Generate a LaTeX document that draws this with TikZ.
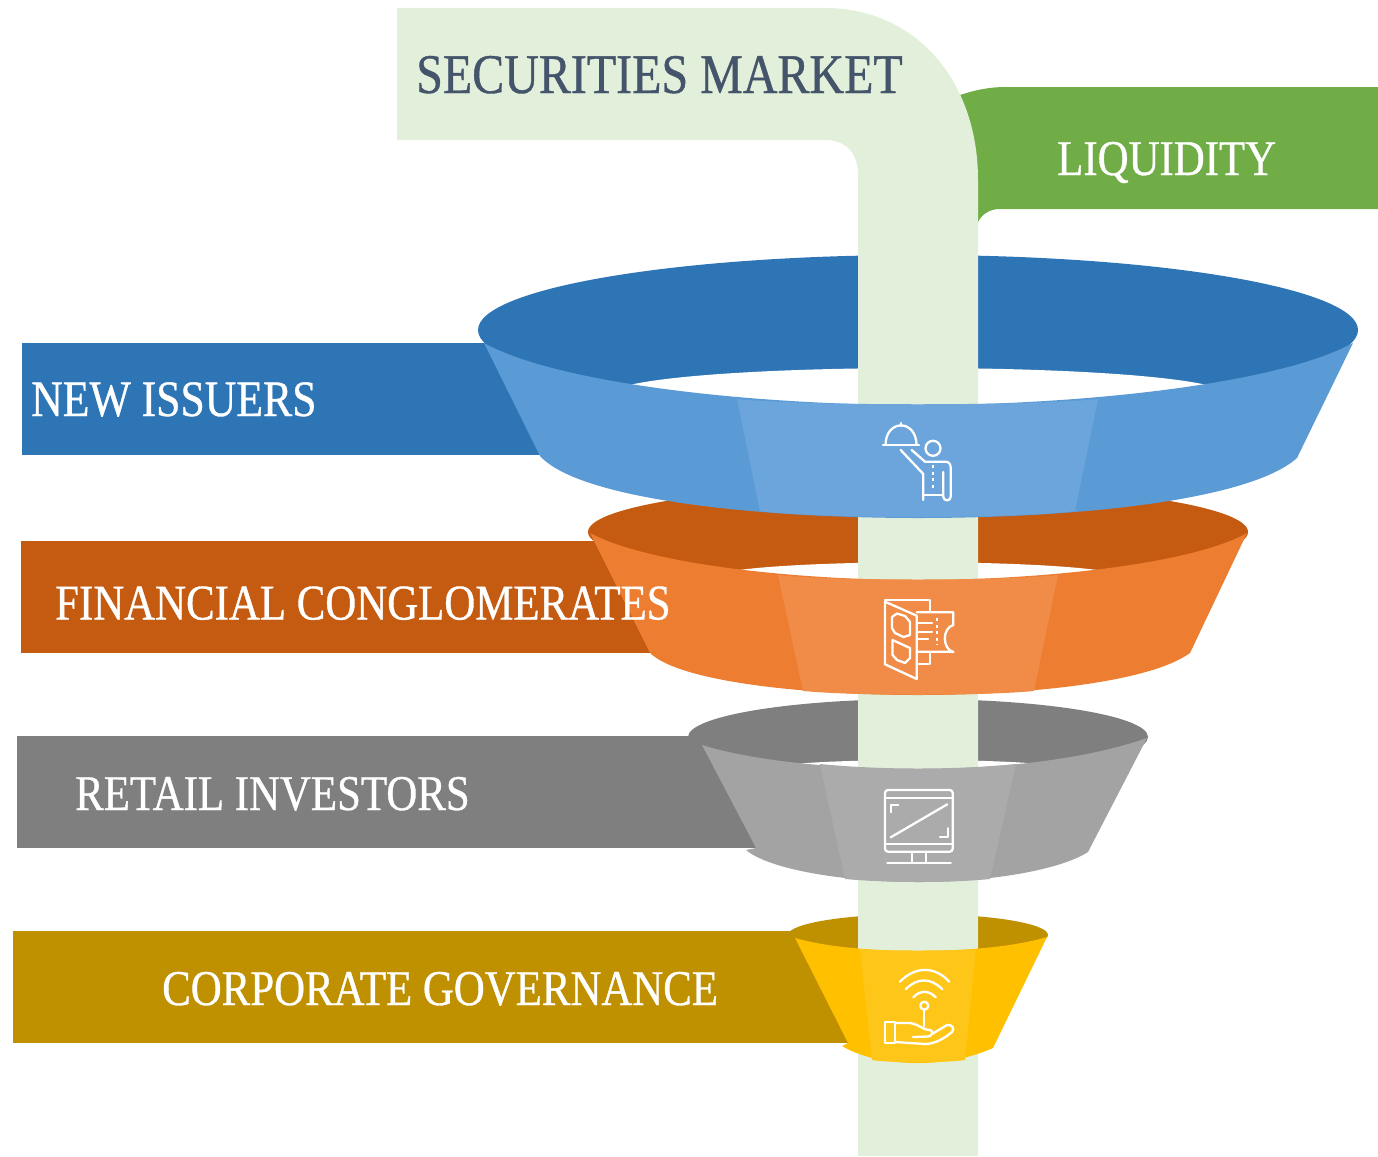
\documentclass[tikz,border=0pt]{standalone}
\usepackage{fontspec}
\setmainfont[FakeStretch=0.857,FakeBold=0.7]{Liberation Serif}
\definecolor{paleGreen}{HTML}{E2EFDA}
\definecolor{liqGreen}{HTML}{70AD47}
\definecolor{titleBlue}{HTML}{44546A}
\definecolor{blueDark}{HTML}{2E75B6}
\definecolor{blueFront}{HTML}{5B9BD5}
\definecolor{blueLight}{HTML}{6BA5DB}
\definecolor{orangeDark}{HTML}{C55A11}
\definecolor{orangeFront}{HTML}{ED7D31}
\definecolor{orangeLight}{HTML}{F08C47}
\definecolor{grayDark}{HTML}{7F7F7F}
\definecolor{grayFront}{HTML}{A3A3A3}
\definecolor{grayLight}{HTML}{ABABAB}
\definecolor{goldDark}{HTML}{BF9000}
\definecolor{goldFront}{HTML}{FFC000}
\definecolor{goldLight}{HTML}{FFC61A}
\usetikzlibrary{arrows}

\begin{document}
\begin{tikzpicture}[x=1pt,y=-1pt,
  label node/.style={anchor=base west,inner sep=0pt,text=white,font=\fontsize{50}{50}\selectfont},
  icon line/.style={draw=white,line width=2.3pt,line cap=round,line join=round},
  icon dots/.style={icon line,dash pattern=on 3pt off 3.5pt,line cap=butt}]

  \useasboundingbox (0,0) rectangle (1378,1156);

  % ribbons on the left
  \fill[blueDark] (22,343) rectangle (560,455);
  \fill[orangeDark] (21,541) rectangle (670,653);
  \fill[grayDark] (17,736) rectangle (770,848);
  \fill[goldDark] (13,931) rectangle (860,1043);

  % back of the funnels
  \fill[goldDark] (918,935) ellipse [x radius=130,y radius=21];
  \fill[grayDark] (918,737) ellipse [x radius=230,y radius=38];
  \fill[orangeDark] (918,532) ellipse [x radius=330,y radius=48];
  \fill[blueDark] (918,330) ellipse [x radius=440,y radius=75];
  \fill[white] (625,386) .. controls (720,362) and (1116,362) .. (1211,386) -- (1100,430) -- (736,430) -- cycle;
  \fill[white] (725,572) .. controls (800,559) and (1036,559) .. (1111,572) -- (1050,600) -- (786,600) -- cycle;
  \fill[white] (795,764) .. controls (850,758.7) and (985,758.7) .. (1040,764) -- (1000,790) -- (836,790) -- cycle;

  % liquidity tab and the column
  \fill[liqGreen] (960,95) .. controls (975,90) and (990,87) .. (1005,87) -- (1378,87) -- (1378,209)
    -- (1000,209) .. controls (990,209) and (982,214) .. (978,222) -- cycle;
  \fill[paleGreen] (397,8) -- (825,8) .. controls (915,8) and (978,80) .. (978,180) -- (978,1156) -- (858,1156)
    -- (858,175) .. controls (858,152) and (845,140) .. (825,140) -- (397,140) -- cycle;

  % front of the funnels
  \fill[goldFront] (795,938) .. controls (830,948) and (880,951) .. (918,951) .. controls (956,951) and (1010,948) .. (1047,937)
    -- (993,1048) .. controls (970,1058) and (945,1063) .. (918,1063) .. controls (890,1063) and (862,1058) .. (842,1046) -- (848,1043) -- cycle;
  \fill[goldLight] (860,949) .. controls (880,951) and (956,951) .. (976,949) -- (965,1060) .. controls (945,1063) and (890,1063) .. (872,1060) -- cycle;

  \fill[grayFront] (702,745) .. controls (750,760) and (830,769) .. (918,769) .. controls (1006,769) and (1090,758) .. (1147,738)
    -- (1088,852) .. controls (1060,870) and (990,882) .. (918,882) .. controls (846,882) and (770,870) .. (746,850) -- (756,848) -- cycle;
  \fill[grayLight] (820,764) .. controls (880,770) and (956,770) .. (1016,764) -- (990,879) .. controls (950,883) and (890,883) .. (845,879) -- cycle;

  \fill[orangeFront] (590,533) .. controls (650,565) and (800,580) .. (918,580) .. controls (1036,580) and (1190,565) .. (1247,533)
    -- (1190,653) .. controls (1150,682) and (1030,695) .. (918,695) .. controls (806,695) and (680,682) .. (650,653) -- cycle;
  \fill[orangeLight] (778,575) .. controls (830,581) and (1006,581) .. (1058,575) -- (1034,691) .. controls (980,696) and (860,696) .. (803,691) -- cycle;

  \fill[blueFront] (484,343) .. controls (560,385) and (760,405) .. (918,405) .. controls (1076,405) and (1276,385) .. (1353,343)
    -- (1297,458) .. controls (1250,500) and (1080,518) .. (918,518) .. controls (760,518) and (580,500) .. (540,456) -- cycle;
  \fill[blueLight] (737,399) .. controls (800,406) and (1036,406) .. (1098,399) -- (1075,511) .. controls (1020,519) and (815,519) .. (760,511) -- cycle;

  % waiter icon
  \draw[icon line] (883,444.7) -- (919,444.7);
  \draw[icon line] (885.5,444.7) .. controls (886,419) and (916,419) .. (916.5,444.7);
  \draw[icon line] (901,423) -- (901,426);
  \draw[icon line] (933,448.3) circle (7.5);
  \draw[icon line] (900.7,450) -- (923.3,474) -- (923.3,500);
  \draw[icon line] (911.7,450) -- (925,461.7) -- (945,461.7) .. controls (949,461.7) and (950.7,464) .. (950.7,468)
    -- (950.7,496.7) .. controls (950.7,501.5) and (943.3,501.5) .. (943.3,496.7) -- (943.3,472);
  \draw[icon line] (923.3,495) -- (943.3,495);
  \draw[icon dots] (933,465) -- (933,490);

  % door and ticket icon
  \draw[icon line] (885,601.7) -- (916.7,615.7) -- (916.7,679) -- (885,664.3) -- cycle;
  \draw[icon line] (885,600) -- (930,600) -- (930,612);
  \draw[icon line] (930,652) -- (930,664.3) -- (916.7,664.3);
  \draw[icon line] (916.7,612.3) -- (953.3,612.3) -- (953.3,625) .. controls (942,628) and (942,649) .. (953.3,652)
    -- (953.3,651.7) -- (916.7,651.7);
  \draw[icon line] (918,623.3) -- (932,623.3) (918,631.7) -- (932,631.7) (918,639) -- (928,639);
  \draw[icon dots] (937.3,618) -- (937.3,645);
  \draw[icon line] (892,617) -- (897,613.5) -- (905,616) -- (910,622) -- (910,635) -- (903.5,637) -- (895,633) -- (892,628) -- cycle;
  \draw[icon line] (892.5,640) -- (910,648) -- (910,658) -- (905,663) -- (897,660) -- (892.5,655) -- cycle;

  % screen icon
  \draw[icon line,rounded corners=3pt] (885,790) rectangle (952.7,851.7);
  \draw[icon line] (885,798.3) -- (952.7,798.3) (885,844.3) -- (952.7,844.3);
  \draw[icon line] (911.7,851.7) -- (911.7,862) (926,851.7) -- (926,862);
  \draw[icon line] (887.3,863) -- (950.7,863);
  \draw[icon line] (890.7,837.3) -- (947.3,804.3);
  \draw[icon line] (890.7,812.3) -- (890.7,805) -- (898.3,805);
  \draw[icon line] (940,836.7) -- (948.3,836.7) -- (948.3,828.3);

  % hand and signal icon
  \draw[icon line] (900,981.7) .. controls (915,966) and (935,966) .. (949.3,981.7);
  \draw[icon line] (905.7,989.3) .. controls (917,977.5) and (931,977.5) .. (942.3,989.3);
  \draw[icon line] (913.3,997.3) .. controls (920,990) and (929,990) .. (935.7,997.3);
  \draw[icon line] (924.3,1005.7) circle (4);
  \draw[icon line] (924.3,1009.7) -- (924.3,1026);
  \draw[icon line] (885,1021.7) rectangle (895,1043.3);
  \draw[icon line] (895,1023) -- (908,1023) .. controls (918,1023) and (922,1030) .. (930,1030) .. controls (934,1030) and (932,1037) .. (928,1036.5) -- (913,1037);
  \draw[icon line] (932,1034) -- (947,1025) .. controls (952,1024) and (955,1029) .. (952,1032) .. controls (945,1038) and (935,1044) .. (925,1044) -- (895,1042);

  % labels
  \node[label node,text=titleBlue,font=\fontsize{56}{56}\selectfont] (market) at (416,93) {SECURITIES MARKET};
  \node[label node] (liquidity) at (1057,175) {LIQUIDITY};
  \node[label node,font=\fontsize{51}{51}\selectfont] (issuers) at (31,416) {NEW ISSUERS};
  \node[label node] (conglomerates) at (55,619.5) {FINANCIAL CONGLOMERATES};
  \node[label node] (investors) at (75,810) {RETAIL INVESTORS};
  \node[label node] (governance) at (162,1005) {CORPORATE GOVERNANCE};

\end{tikzpicture}
\end{document}
